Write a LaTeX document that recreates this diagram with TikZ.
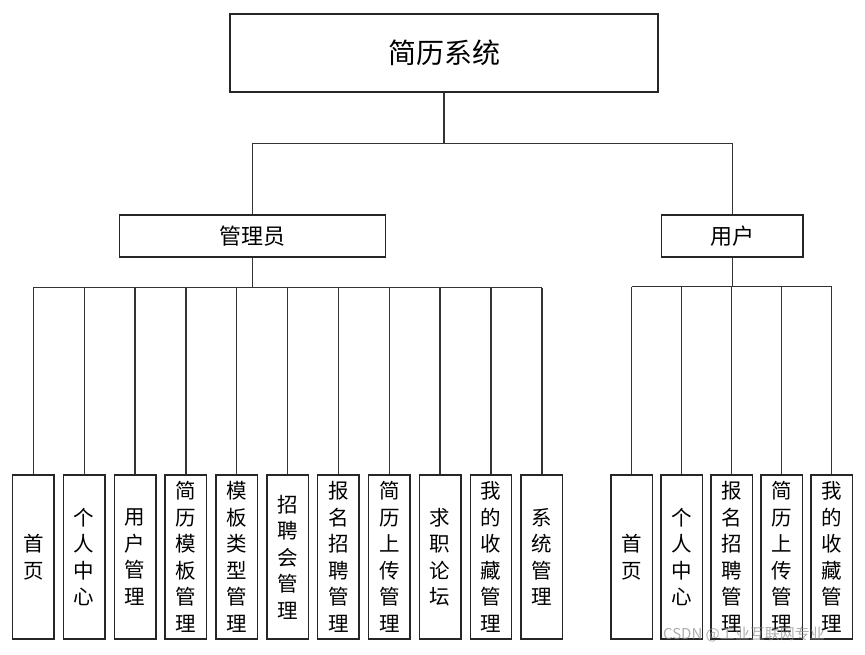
\documentclass[tikz,border=0pt]{standalone}
\usepackage{fontspec}
\newfontfamily\cjk{Noto Sans CJK SC}
\begin{document}
\begin{tikzpicture}[x=1pt,y=-1pt,
  box/.style={draw=black!85,line width=1.4pt,inner sep=0pt,fill=white},
  leaf/.style={box,minimum width=41.5pt,minimum height=164pt,align=center,font=\cjk\fontsize{20.5}{26.5}\selectfont},
  conn/.style={draw=black!80,line width=1.4pt}]
\useasboundingbox[fill=white] (0,0) rectangle (865,655);
% top level
\node[box,minimum width=428pt,minimum height=78pt,font=\cjk\fontsize{28}{32}\selectfont] (root) at (444,53) {简历系统};
\node[box,minimum width=266pt,minimum height=42pt,font=\cjk\fontsize{22}{26}\selectfont] (admin) at (252.7,236) {管理员};
\node[box,minimum width=141.4pt,minimum height=42pt,font=\cjk\fontsize{22}{26}\selectfont] (user) at (732.3,236) {用户};
% admin leaves
\foreach \i/\t in {0/{首\\页},1/{个\\人\\中\\心},2/{用\\户\\管\\理},3/{简\\历\\模\\板\\管\\理},4/{模\\板\\类\\型\\管\\理},5/{招\\聘\\会\\管\\理},6/{报\\名\\招\\聘\\管\\理},7/{简\\历\\上\\传\\管\\理},8/{求\\职\\论\\坛},9/{我\\的\\收\\藏\\管\\理},10/{系\\统\\管\\理}}{
  \node[leaf] (a\i) at ({33.4+50.84*\i},557) {\t};
}
% user leaves
\foreach \i/\t in {0/{首\\页},1/{个\\人\\中\\心},2/{报\\名\\招\\聘\\管\\理},3/{简\\历\\上\\传\\管\\理},4/{我\\的\\收\\藏\\管\\理}}{
  \node[leaf] (u\i) at ({631.7+50*\i},557) {\t};
}
% connectors
\draw[conn] (root.south) -- ++(0,51) coordinate (rbus);
\draw[conn] (admin.north) |- (rbus);
\draw[conn] (user.north) |- (rbus);
\draw[conn] (admin.south) -- ++(0,30) coordinate (abus);
\draw[conn] (a0.north |- abus) -- (a10.north |- abus);
\foreach \i in {0,...,10}{ \draw[conn] (a\i.north) -- (a\i.north |- abus); }
\draw[conn] (user.south) -- ++(0,29) coordinate (ubus);
\draw[conn] (u0.north |- ubus) -- (u4.north |- ubus);
\foreach \i in {0,...,4}{ \draw[conn] (u\i.north) -- (u\i.north |- ubus); }
% watermark
\node[text=black!45,opacity=0.7,font=\cjk\fontsize{15}{18}\selectfont,inner sep=0pt] (wm) at (744,634) {CSDN @工业互联网专业};
\end{tikzpicture}
\end{document}
